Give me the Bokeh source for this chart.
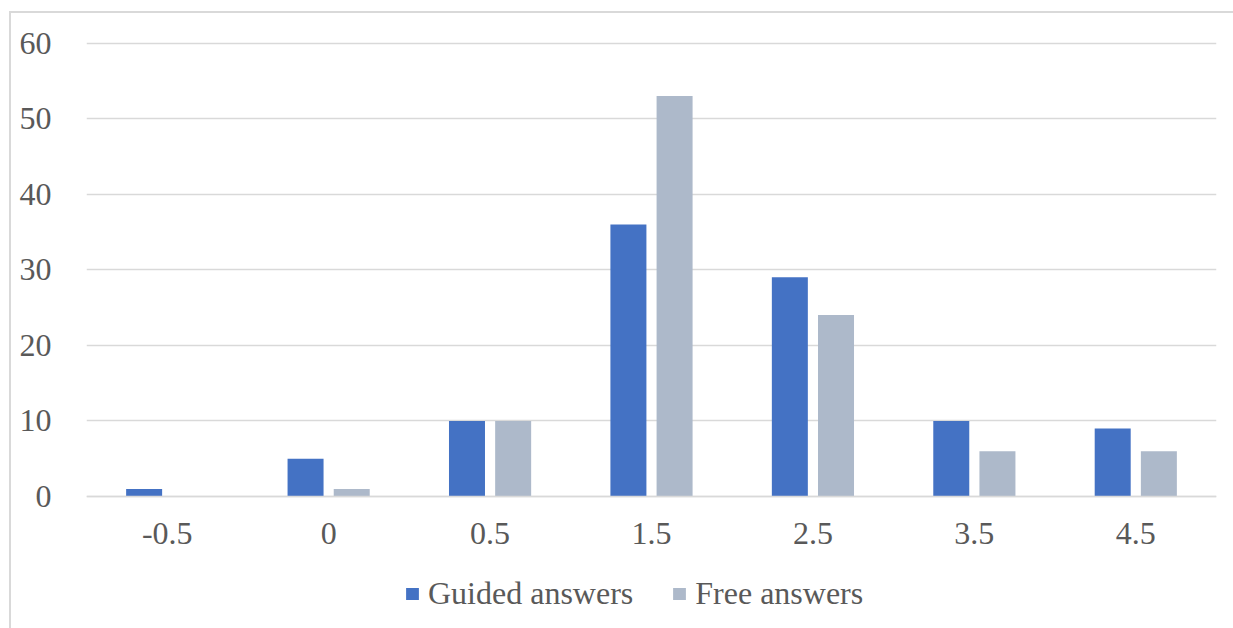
from bokeh.plotting import figure
from bokeh.models import FactorRange, Range1d, FixedTicker, Legend, LegendItem, ColumnDataSource
from bokeh.transform import dodge
from bokeh.embed import file_html
from bokeh.resources import INLINE

categories = ["-0.5", "0", "0.5", "1.5", "2.5", "3.5", "4.5"]
guided = [1, 5, 10, 36, 29, 10, 9]
free = [0, 1, 10, 53, 24, 6, 6]
y_ticks = [0, 10, 20, 30, 40, 50, 60]

GUIDED_COLOR = "#4472C4"
FREE_COLOR = "#ADB9CA"
TEXT_COLOR = "#595959"
GRID_COLOR = "#D9D9D9"
FONT = "Liberation Serif"

source = ColumnDataSource(data=dict(cat=categories, guided=guided, free=free))

# frame extends below the zero line so the legend can sit inside it
p = figure(
    x_range=FactorRange(*categories, range_padding=0),
    y_range=Range1d(-17.46, 60.2),
    frame_width=1130, frame_height=587,
    output_backend="svg", toolbar_location=None,
    min_border_left=75, min_border_right=17, min_border_top=28, min_border_bottom=0,
    outline_line_color=None,
    styles={"border-left": f"2px solid {GRID_COLOR}", "border-top": f"2px solid {GRID_COLOR}",
            "margin-left": "9px", "margin-top": "11px"},
)

r1 = p.vbar(x=dodge("cat", -0.143, range=p.x_range), top="guided", width=0.223,
            source=source, fill_color=GUIDED_COLOR, line_color=None)
r2 = p.vbar(x=dodge("cat", 0.143, range=p.x_range), top="free", width=0.223,
            source=source, fill_color=FREE_COLOR, line_color=None)

p.xgrid.grid_line_color = None
p.ygrid.grid_line_color = GRID_COLOR
p.ygrid.grid_line_width = 1.5

p.yaxis.ticker = FixedTicker(ticks=y_ticks)
p.yaxis.axis_line_color = None
p.xaxis.fixed_location = 0
p.xaxis.axis_line_color = GRID_COLOR
p.xaxis.axis_line_width = 1.5
for ax in (p.xaxis, p.yaxis):
    ax.major_tick_line_color = None
    ax.minor_tick_line_color = None
    ax.major_label_text_font = FONT
    ax.major_label_text_font_size = "32px"
    ax.major_label_text_color = TEXT_COLOR
p.yaxis.major_label_standoff = 29
p.xaxis.major_label_standoff = 20

legend = Legend(
    items=[LegendItem(label="Guided answers", renderers=[r1]),
           LegendItem(label="Free answers", renderers=[r2])],
    orientation="horizontal", location=(318, 16),
    label_text_font=FONT, label_text_font_size="32px", label_text_color=TEXT_COLOR,
    glyph_width=16, glyph_height=15, label_standoff=8, spacing=38,
    border_line_color=None, background_fill_alpha=0, padding=0, margin=0,
)
p.add_layout(legend, "center")

open("out.html", "w").write(file_html(p, INLINE))
